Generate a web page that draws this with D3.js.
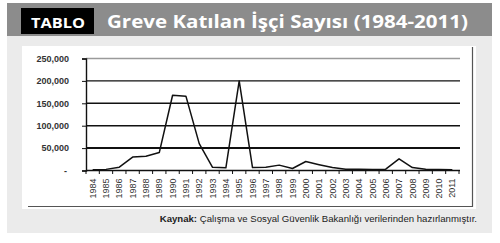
<!DOCTYPE html>
<html>
<head>
<meta charset="utf-8">
<script src="https://cdn.jsdelivr.net/npm/d3@7"></script>
<style>
  body { margin: 0; background: #fff; }
  svg { display: block; }
</style>
</head>
<body>
<svg width="500" height="243"></svg>
<script>
// years and striking workers
var years = ["1984", "1985", "1986", "1987", "1988", "1989", "1990", "1991", "1992", "1993",
    "1994", "1995", "1996", "1997", "1998", "1999", "2000", "2001", "2002", "2003",
    "2004", "2005", "2006", "2007", "2008", "2009", "2010", "2011"];
var workers = [1500, 2500, 7500, 30000, 32000, 40000, 168000, 166000, 60000, 7000,
    6000, 200000, 6500, 7500, 12000, 4500, 20000, 13000, 6500, 3000,
    3000, 2500, 3000, 26000, 6500, 3000, 2000, 1500];
var yTicks = [0, 50000, 100000, 150000, 200000, 250000];
var yTickLabels = ["-", "50,000", "100,000", "150,000", "200,000", "250,000"];

var title = "Greve Katılan İşçi Sayısı (1984-2011)";
var source = "Çalışma ve Sosyal Güvenlik Bakanlığı verilerinden hazırlanmıştır.";

var svg = d3.select("svg");

// frame
svg.append("rect").attr("x", 7).attr("y", 3).attr("width", 485).attr("height", 230)
    .attr("fill", "#ebebeb");
svg.append("rect").attr("x", 7).attr("y", 3).attr("width", 485).attr("height", 33)
    .attr("fill", "#8c8c8c");
svg.append("rect").attr("x", 21).attr("y", 8).attr("width", 73).attr("height", 26)
    .attr("fill", "#000");
svg.append("text").attr("x", 31).attr("y", 27.5)
    .attr("font-family", "Open Sans, sans-serif").attr("font-weight", "bold")
    .attr("font-size", 15).attr("fill", "#fff")
    .attr("textLength", 54).attr("lengthAdjust", "spacingAndGlyphs")
    .text("TABLO");
svg.append("text").attr("x", 107).attr("y", 28)
    .attr("font-family", "Open Sans, sans-serif").attr("font-weight", "bold")
    .attr("font-size", 18).attr("fill", "#fff")
    .attr("textLength", 361).attr("lengthAdjust", "spacingAndGlyphs")
    .text(title);

// white chart box
svg.append("rect").attr("x", 22).attr("y", 46).attr("width", 454).attr("height", 163)
    .attr("fill", "#fff");
svg.append("path").attr("d", "M472.5,47V206.5H28")
    .attr("fill", "none").attr("stroke", "#555").attr("stroke-width", 1.2);

var x = d3.scaleBand().domain(years).range([86, 459]);
var y = d3.scaleLinear().domain([0, 250000]).range([170.5, 58.5]);

// grid lines
svg.append("g").selectAll("line")
    .data(yTicks.slice(1))
    .enter().append("line")
    .attr("x1", 86).attr("x2", 460)
    .attr("y1", function (d) { return y(d); })
    .attr("y2", function (d) { return y(d); })
    .attr("stroke", function (d) { return d == 250000 ? "#9a9a9a" : "#111"; })
    .attr("stroke-width", function (d) { return d == 50000 ? 2 : 1.4; });

// y axis
var yAxis = svg.append("g").attr("transform", "translate(86,0)")
    .call(d3.axisLeft(y).tickValues(yTicks).tickSize(4).tickPadding(13)
        .tickFormat(function (d, i) { return yTickLabels[i]; }));
yAxis.select(".domain").attr("stroke", "#111").attr("stroke-width", 1.4);
yAxis.selectAll(".tick line").attr("stroke", "#111");
yAxis.selectAll("text")
    .attr("font-family", "Liberation Sans, sans-serif").attr("font-weight", "bold")
    .attr("font-size", 9).attr("fill", "#333");
yAxis.selectAll(".tick text").filter(function (d) { return d == 0; })
    .attr("x", -19);

// x axis: ticks at band edges, labels at band centres
var xAxis = svg.append("g").attr("transform", "translate(0," + y(0) + ")");
xAxis.append("line").attr("x1", 86).attr("x2", 460)
    .attr("stroke", "#111").attr("stroke-width", 1.4);
xAxis.selectAll(".xt")
    .data(years.concat(["end"]))
    .enter().append("line")
    .attr("x1", function (d, i) { return 86 + i * x.step(); })
    .attr("x2", function (d, i) { return 86 + i * x.step(); })
    .attr("y1", 0).attr("y2", 3.5)
    .attr("stroke", "#111");
xAxis.selectAll("text")
    .data(years)
    .enter().append("text")
    .attr("transform", function (d) {
        return "translate(" + (x(d) + x.bandwidth() / 2) + ",8) rotate(-90)";
    })
    .attr("dy", "0.35em")
    .attr("text-anchor", "end")
    .attr("font-family", "Liberation Sans, sans-serif")
    .attr("font-size", 9).attr("fill", "#333")
    .text(function (d) { return d; });

// the line
var line = d3.line()
    .x(function (d, i) { return x(years[i]) + x.bandwidth() / 2; })
    .y(function (d) { return y(d); });
svg.append("path").datum(workers)
    .attr("d", line)
    .attr("fill", "none").attr("stroke", "#111").attr("stroke-width", 1.5)
    .attr("stroke-linejoin", "round");

// source note
var note = svg.append("text").attr("x", 477).attr("y", 222)
    .attr("text-anchor", "end")
    .attr("font-family", "Liberation Sans, sans-serif")
    .attr("font-size", 9.6).attr("fill", "#222");
note.append("tspan").attr("font-weight", "bold").text("Kaynak: ");
note.append("tspan").text(source);
</script>
</body>
</html>
